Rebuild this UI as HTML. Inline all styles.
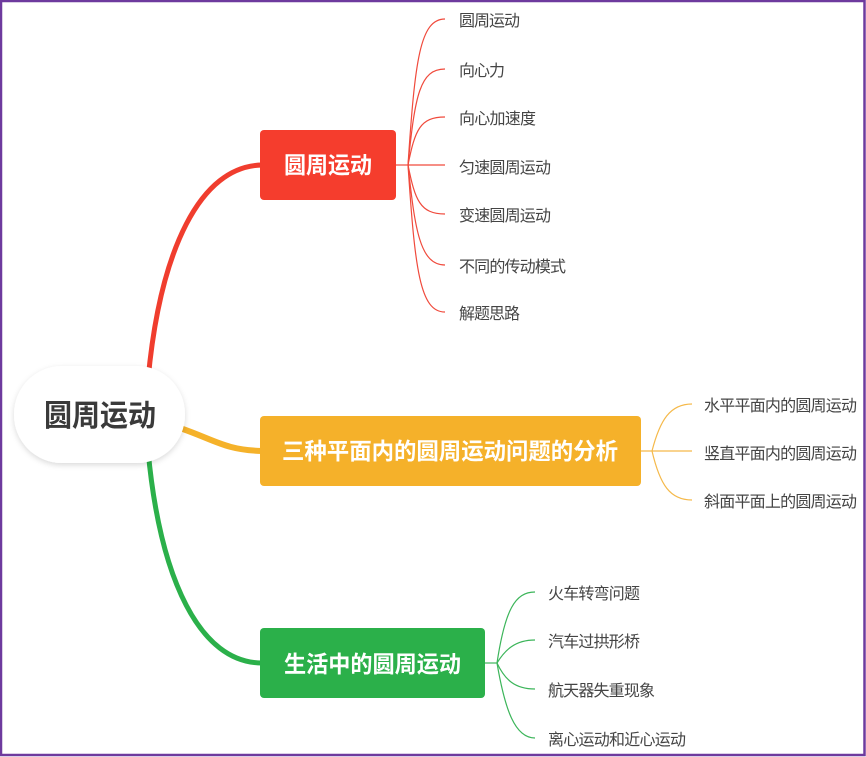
<!DOCTYPE html>
<html><head><meta charset="utf-8"><style>
html,body{margin:0;padding:0;background:#fff;}
svg{display:block;}
text{font-family:"Liberation Sans","Noto Sans CJK SC",sans-serif;}
</style></head><body>
<svg width="866" height="757" viewBox="0 0 866 757" xmlns="http://www.w3.org/2000/svg">
<rect x="1" y="1" width="863.5" height="754" fill="#fff" stroke="#6e3a9e" stroke-width="2.5"/>
<defs><filter id="sh" x="-20%" y="-20%" width="140%" height="150%"><feDropShadow dx="0" dy="2" stdDeviation="3" flood-color="#000" flood-opacity="0.15"/></filter></defs>
<path d="M148 380 C160 250 200 166 262 165" fill="none" stroke="#f03d2e" stroke-width="5"/>
<path d="M180 428 C215 440 225 450 262 451" fill="none" stroke="#f5b22a" stroke-width="6"/>
<path d="M148 450 C160 580 200 663 262 663" fill="none" stroke="#2bb04a" stroke-width="5"/>
<rect x="14" y="366" width="171" height="97" rx="48" fill="#fff" filter="url(#sh)"/>
<text x="44" y="426" font-size="30" font-weight="bold" fill="#3a3a3a" textLength="112" lengthAdjust="spacingAndGlyphs">圆周运动</text>
<rect x="260" y="130" width="136" height="70" rx="4" fill="#f53d2d"/>
<text x="284" y="173" font-size="23" font-weight="bold" fill="#fff" textLength="88" lengthAdjust="spacingAndGlyphs">圆周运动</text>
<g fill="none" stroke="#f04a3c" stroke-width="1.2">
<path d="M396 165 L408 165"/>
<path d="M408 165 C415 60 420 19 445 19"/>
<path d="M408 165 C415 95 420 69 445 69"/>
<path d="M408 165 C415 130 420 117 445 117"/>
<path d="M408 165 L445 165"/>
<path d="M408 165 C415 200 420 214 445 214"/>
<path d="M408 165 C415 230 420 265 445 265"/>
<path d="M408 165 C415 270 420 312 445 312"/>
</g>
<g font-size="16" fill="#444" lengthAdjust="spacingAndGlyphs">
<text x="459" y="26" textLength="61">圆周运动</text>
<text x="459" y="76" textLength="46">向心力</text>
<text x="459" y="124" textLength="77">向心加速度</text>
<text x="459" y="173" textLength="92">匀速圆周运动</text>
<text x="459" y="221" textLength="92">变速圆周运动</text>
<text x="459" y="272" textLength="107">不同的传动模式</text>
<text x="459" y="319" textLength="61">解题思路</text>
</g>
<rect x="260" y="416" width="381" height="70" rx="4" fill="#f5b12a"/>
<text x="282" y="459" font-size="23" font-weight="bold" fill="#fff" textLength="336" lengthAdjust="spacingAndGlyphs">三种平面内的圆周运动问题的分析</text>
<g fill="none" stroke="#f5b94a" stroke-width="1.2">
<path d="M641 451 L692 451"/>
<path d="M652 451 C660 420 670 404 692 404"/>
<path d="M652 451 C660 485 670 500 692 500"/>
</g>
<g font-size="16" fill="#444" lengthAdjust="spacingAndGlyphs">
<text x="704" y="411" textLength="153">水平平面内的圆周运动</text>
<text x="704" y="459" textLength="153">竖直平面内的圆周运动</text>
<text x="704" y="507" textLength="153">斜面平面上的圆周运动</text>
</g>
<rect x="260" y="628" width="225" height="70" rx="4" fill="#2bb04a"/>
<text x="284" y="672" font-size="23" font-weight="bold" fill="#fff" textLength="177" lengthAdjust="spacingAndGlyphs">生活中的圆周运动</text>
<g fill="none" stroke="#3cb55a" stroke-width="1.2">
<path d="M485 663 L497 663"/>
<path d="M497 663 C505 610 515 592 535 592"/>
<path d="M497 663 C505 650 515 640 535 640"/>
<path d="M497 663 C505 680 515 689 535 689"/>
<path d="M497 663 C505 710 515 738 535 738"/>
</g>
<g font-size="16" fill="#444" lengthAdjust="spacingAndGlyphs">
<text x="548" y="599" textLength="92">火车转弯问题</text>
<text x="548" y="647" textLength="92">汽车过拱形桥</text>
<text x="548" y="696" textLength="107">航天器失重现象</text>
<text x="548" y="745" textLength="138">离心运动和近心运动</text>
</g>
</svg>
</body></html>
